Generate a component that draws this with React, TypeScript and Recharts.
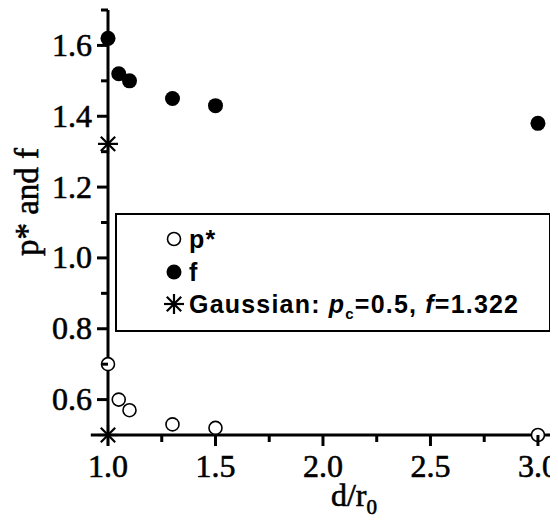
import { Legend, ReferenceLine, Scatter, ScatterChart, XAxis, YAxis } from 'recharts'

// d/r0 positions
const pStarX = [1.0, 1.05, 1.1, 1.3, 1.5, 3.0]
const pStarY = [0.7, 0.6, 0.57, 0.53, 0.52, 0.5]
const fX = [1.0, 1.05, 1.1, 1.3, 1.5, 3.0]
const fY = [1.62, 1.52, 1.5, 1.45, 1.43, 1.38]
const gaussX = [1.0, 1.0]
const gaussY = [1.322, 0.5]

const xMajor = [1, 1.5, 2, 2.5, 3]
const xMinor = [1.25, 1.75, 2.25, 2.75]
const yMajor = [0.6, 0.8, 1.0, 1.2, 1.4, 1.6]
const yMinor = [0.7, 0.9, 1.1, 1.3, 1.5, 1.7]

const pStarData = pStarX.map((x, i) => ({ x, y: pStarY[i] }))
const fData = fX.map((x, i) => ({ x, y: fY[i] }))
const gaussData = gaussX.map((x, i) => ({ x, y: gaussY[i] }))

const xTicks = [...xMajor, ...xMinor].sort((a, b) => a - b)
const yTicks = [...yMajor, ...yMinor].sort((a, b) => a - b)

const serif = '"Liberation Serif", "Times New Roman", serif'
const sans = '"Liberation Sans", Arial, sans-serif'

const OpenDot = ({ cx, cy }: any) => (
  <circle cx={cx} cy={cy} r={6.5} fill='#fff' stroke='#000' strokeWidth={1.6} />
)
const FilledDot = ({ cx, cy }: any) => <circle cx={cx} cy={cy} r={7.5} fill='#000' />
const Star = ({ cx, cy }: any) => {
  const s = 10
  const d = s * 0.72
  return (
    <g stroke='#000' strokeWidth={2.2}>
      <line x1={cx - s} y1={cy} x2={cx + s} y2={cy} />
      <line x1={cx} y1={cy - s} x2={cx} y2={cy + s} />
      <line x1={cx - d} y1={cy - d} x2={cx + d} y2={cy + d} />
      <line x1={cx - d} y1={cy + d} x2={cx + d} y2={cy - d} />
    </g>
  )
}

const XTick = ({ x, y, payload }: any) => {
  const major = xMajor.includes(payload.value)
  return (
    <g>
      <line x1={x} x2={x} y1={y} y2={y + (major ? 11 : 7)} stroke='#000' strokeWidth={3} />
      {major && (
        <text x={x} y={y + 42} textAnchor='middle' fontSize={32} fontFamily={serif} fill='#000' stroke='#000' strokeWidth={0.6}>
          {payload.value.toFixed(1)}
        </text>
      )}
    </g>
  )
}

const YTick = ({ x, y, payload }: any) => {
  const major = yMajor.includes(payload.value)
  return (
    <g>
      <line x1={x} x2={x - (major ? 11 : 7)} y1={y} y2={y} stroke='#000' strokeWidth={3} />
      {major && (
        <text x={x - 16} y={y + 10.5} textAnchor='end' fontSize={32} fontFamily={serif} fill='#000' stroke='#000' strokeWidth={0.6}>
          {payload.value.toFixed(1)}
        </text>
      )}
    </g>
  )
}

const LegendBox = () => (
  <div
    style={{
      width: 436,
      height: 119,
      boxSizing: 'border-box',
      border: '2px solid #000',
      background: '#fff',
      position: 'relative',
      fontFamily: sans,
      fontWeight: 'bold',
      fontSize: 25,
      color: '#000'
    }}
  >
    {[
      { top: 24, icon: OpenDot, label: <>p*</> },
      { top: 57, icon: FilledDot, label: <>f</> },
      {
        top: 89,
        icon: Star,
        label: (
          <>
            Gaussian: <i>p</i>
            <sub style={{ fontSize: 15 }}>c</sub>=0.5, <i>f</i>=1.322
          </>
        )
      }
    ].map((row, i) => {
      const Icon = row.icon
      return (
        <div key={i} style={{ position: 'absolute', left: 0, top: row.top - 16, height: 32, width: '100%' }}>
          <svg width={30} height={32} style={{ position: 'absolute', left: 42, top: 0 }}>
            <Icon cx={15} cy={16} />
          </svg>
          <div style={{ position: 'absolute', left: 72, top: 0, lineHeight: '32px', letterSpacing: 1.2, whiteSpace: 'nowrap' }}>
            {row.label}
          </div>
        </div>
      )
    })}
  </div>
)

export default function App() {
  return (
    <div style={{ width: 550, height: 512 }}>
      <ScatterChart width={550} height={512} margin={{ top: 2, right: 5, bottom: 15, left: 10 }}>
        <XAxis
          type='number'
          dataKey='x'
          domain={[1, 3.07]}
          ticks={xTicks}
          interval={0}
          tick={<XTick />}
          tickLine={false}
          tickSize={0}
          tickMargin={0}
          height={70}
          axisLine={{ stroke: '#000', strokeWidth: 3 }}
          label={{
            content: () => (
              <text x={346} y={498} textAnchor='middle' fontSize={32} fontFamily={serif} fill='#000' stroke='#000' strokeWidth={0.6}>
                d/r
                <tspan fontSize={21} dy={8}>
                  0
                </tspan>
              </text>
            )
          }}
        />
        <YAxis
          type='number'
          dataKey='y'
          domain={[0.5, 1.7]}
          ticks={yTicks}
          interval={0}
          tick={<YTick />}
          tickLine={false}
          tickSize={0}
          tickMargin={0}
          width={90}
          axisLine={{ stroke: '#000', strokeWidth: 3 }}
          label={{
            content: () => (
              <text
                x={30}
                y={194}
                transform='rotate(-90, 30, 194)'
                textAnchor='middle'
                fontSize={33}
                fontFamily={serif}
                fill='#000'
                stroke='#000'
                strokeWidth={0.6}
              >
                p* and f
              </text>
            )
          }}
        />
        <ReferenceLine
          segment={[
            { x: 0.92, y: 0.5 },
            { x: 1, y: 0.5 }
          ]}
          stroke='#000'
          strokeWidth={3}
          ifOverflow='visible'
        />
        <Legend
          layout='vertical'
          align='center'
          verticalAlign='middle'
          width={436}
          wrapperStyle={{ left: 107, top: 205, width: 436, height: 119 }}
          content={<LegendBox />}
        />
        <Scatter name='p*' data={pStarData} shape={OpenDot} isAnimationActive={false} />
        <Scatter name='f' data={fData} shape={FilledDot} isAnimationActive={false} />
        <Scatter name='Gaussian' data={gaussData} shape={Star} isAnimationActive={false} />
      </ScatterChart>
    </div>
  )
}
